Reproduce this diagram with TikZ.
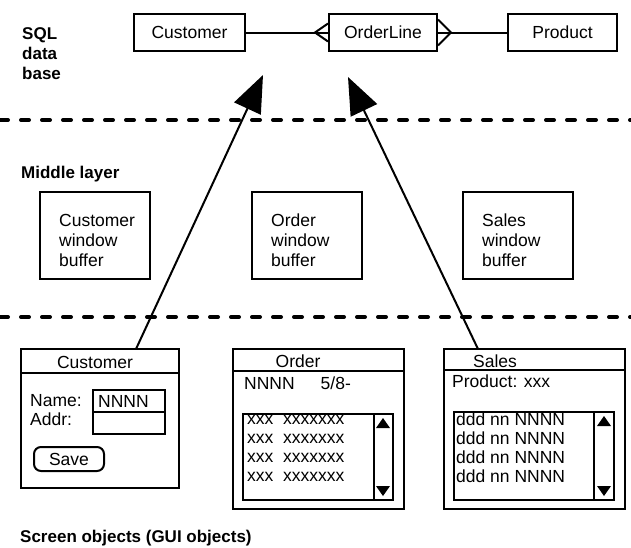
\documentclass[tikz,border=0pt]{standalone}
\usepackage{fontspec}
\setmainfont{Liberation Sans}
\usetikzlibrary{arrows.meta,calc}
\tikzstyle{box} = [draw, line width=2pt, inner sep=0pt, anchor=north west]
\tikzstyle{txt} = [inner sep=0pt, anchor=west]
\tikzstyle{heading} = [txt, font=\fontsize{17}{20}\selectfont\bfseries, align=left]
\tikzstyle{link} = [line width=2pt]
\tikzstyle{arrow} = [line width=2pt, -{Triangle[length=37pt,width=29pt]}]
\tikzstyle{layer} = [line width=4pt, line cap=round, dash pattern=on 8pt off 13pt]

\begin{document}
\begin{tikzpicture}[x=1pt, y=-1pt, font=\fontsize{17.5}{20}\selectfont]
		\useasboundingbox (0,0) rectangle (631,547);

		% SQL data base
		\node[heading] (sqlhd) at (22,54) {SQL\\data\\base};
		\node[box, minimum width=111pt, minimum height=37pt] (cust) at (133,13) {Customer};
		\node[box, minimum width=108pt, minimum height=37pt] (ordl) at (328,13) {OrderLine};
		\node[box, minimum width=109pt, minimum height=37pt] (prod) at (507,13) {Product};
		\coordinate (crowl) at ($(ordl.west)+(-13,0)$);
		\coordinate (crowr) at ($(ordl.east)+(13,0)$);
		\draw[link] (cust) -- (ordl);
		\draw[link] (ordl) -- (prod);
		\draw[link] ($(ordl.west)+(0,-9)$) -- (crowl) -- ($(ordl.west)+(0,9)$);
		\draw[link] ($(ordl.east)+(0,-13)$) -- (crowr) -- ($(ordl.east)+(0,13)$);

		\draw[layer] (0,120) -- (631,120);

		% middle layer
		\node[heading] (midhd) at (21,174) {Middle layer};
		\foreach \nm/\x/\lbl in {custbuf/39/Customer, ordbuf/251/Order, salbuf/462/Sales}{
			\node[box, minimum width=110pt, minimum height=87pt] (\nm) at (\x,191) {};
			\node[txt, align=left] (\nm txt) at ($(\nm.west)+(20,5)$) {\lbl\\window\\buffer};
		}

		\draw[layer] (0,317) -- (631,317);

		% customer window
		\node[box, minimum width=158pt, minimum height=139pt] (cwin) at (20,348) {};
		\draw[link] ($(cwin.north west)+(0,25)$) -- ($(cwin.north east)+(0,25)$);
		\node (cwintitle) at ($(cwin.north west)+(75,14)$) {Customer};
		\node[txt] (cname) at ($(cwin.north west)+(10,53)$) {Name:};
		\node[txt] (caddr) at ($(cwin.north west)+(10,71)$) {Addr:};
		\node[box, minimum width=72pt, minimum height=22pt] (cnamef) at (92,389) {};
		\node[box, minimum width=72pt, minimum height=22pt] (caddrf) at (92,411) {};
		\node[txt] (cnameval) at ($(cnamef.west)+(6,0)$) {NNNN};
		\node[box, rounded corners=7pt, minimum width=70pt, minimum height=24pt] (csave) at (33,446) {Save};

		% order window
		\node[box, minimum width=171pt, minimum height=160pt] (owin) at (232,348) {};
		\draw[link] ($(owin.north west)+(0,23)$) -- ($(owin.north east)+(0,23)$);
		\node (owintitle) at ($(owin.north west)+(66,13)$) {Order};
		\node[txt] (ohead) at ($(owin.north west)+(12,35)$) {NNNN\hspace{26pt}5/8-};
		\node[box, minimum width=150pt, minimum height=86pt] (olist) at (242,413) {};
		\draw[link] ($(olist.north east)+(-20,0)$) -- ($(olist.south east)+(-20,0)$);
		\fill ($(olist.north east)+(-11,5)$) -- ($(olist.north east)+(-18,15)$) -- ($(olist.north east)+(-4,15)$) -- cycle;
		\fill ($(olist.south east)+(-11,-5)$) -- ($(olist.south east)+(-18,-15)$) -- ($(olist.south east)+(-4,-15)$) -- cycle;
		\foreach \i in {0,...,3}
			\node[txt] (oitem\i) at (247,420+19*\i) {xxx\ \ xxxxxxx};

		% sales window
		\node[box, minimum width=181pt, minimum height=160pt] (swin) at (443,348) {};
		\draw[link] ($(swin.north west)+(0,22)$) -- ($(swin.north east)+(0,22)$);
		\node[txt] (swintitle) at ($(swin.north west)+(30,13)$) {Sales};
		\node[txt] (shead) at ($(swin.north west)+(9,33)$) {Product: xxx};
		\node[box, minimum width=160pt, minimum height=88pt] (slist) at (453,411) {};
		\draw[link] ($(slist.north east)+(-21,0)$) -- ($(slist.south east)+(-21,0)$);
		\fill ($(slist.north east)+(-11,5)$) -- ($(slist.north east)+(-18,15)$) -- ($(slist.north east)+(-4,15)$) -- cycle;
		\fill ($(slist.south east)+(-11,-5)$) -- ($(slist.south east)+(-18,-15)$) -- ($(slist.south east)+(-4,-15)$) -- cycle;
		\foreach \i in {0,...,3}
			\node[txt] (sitem\i) at (456,419+19*\i) {ddd nn NNNN};

		% arrows up to the data base
		\coordinate (custtip) at (263,75);
		\coordinate (saletip) at (348,77);
		\draw[arrow] ($(cwin.north west)+(116,1)$) -- (custtip);
		\draw[arrow] ($(swin.north west)+(35,1)$) -- (saletip);

		\node[heading] (scrhd) at (20,538) {Screen objects (GUI objects)};
	\end{tikzpicture}
\end{document}
